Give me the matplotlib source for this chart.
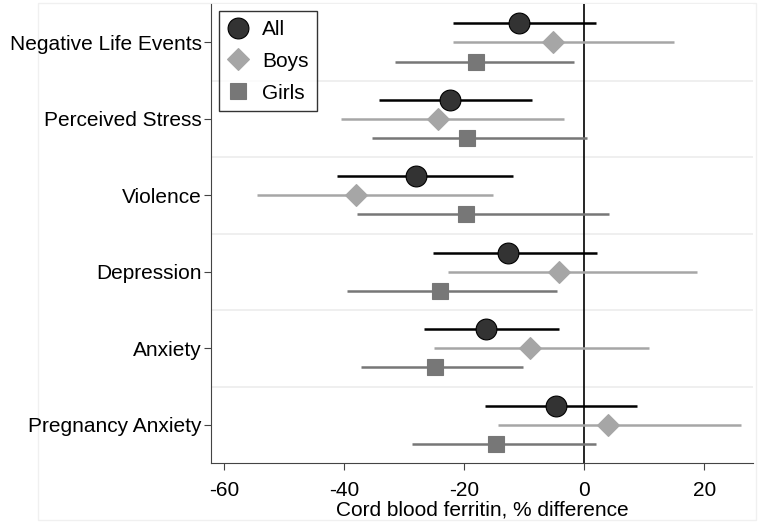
import matplotlib
matplotlib.use("Agg")
import matplotlib.pyplot as plt
from matplotlib.patches import Rectangle
import numpy as np

plt.rcParams['font.family'] = ['Liberation Sans', 'DejaVu Sans']

categories = ["Negative Life Events", "Perceived Stress", "Violence",
              "Depression", "Anxiety", "Pregnancy Anxiety"]

# point estimate, lower CI, upper CI (% difference)
all_est = [-10.8, -22.4, -28.0, -12.7, -16.3, -4.8]
all_lo = [-21.8, -34.2, -41.1, -25.2, -26.7, -16.6]
all_hi = [1.9, -8.7, -11.9, 2.1, -4.3, 8.8]

boys_est = [-5.2, -24.3, -38.0, -4.3, -9.0, 4.0]
boys_lo = [-21.8, -40.5, -54.5, -22.7, -25.0, -14.4]
boys_hi = [15.0, -3.4, -15.2, 18.7, 10.7, 26.0]

girls_est = [-18.0, -19.6, -19.7, -24.0, -24.9, -14.7]
girls_lo = [-31.5, -35.4, -37.9, -39.5, -37.1, -28.7]
girls_hi = [-1.8, 0.5, 4.1, -4.5, -10.2, 2.0]

series = [
    ("All", all_est, all_lo, all_hi, -0.25, "o", "#333333", "#000000", 15),
    ("Boys", boys_est, boys_lo, boys_hi, 0.0, "D", "#a6a6a6", "#a6a6a6", 11),
    ("Girls", girls_est, girls_lo, girls_hi, 0.25, "s", "#777777", "#777777", 11),
]

fs = 15

fig = plt.figure(figsize=(7.6, 5.22), dpi=100)
ax = fig.add_axes([0.278, 0.113, 0.713, 0.879])

y = np.arange(len(categories))
for b in np.arange(0.5, len(categories) - 0.5, 1.0):
    ax.axhline(b, color="#ececec", lw=1.2, zorder=0)
ax.axvline(0, color="black", lw=1.2, zorder=1)

for name, est, lo, hi, off, mk, fc, lc, ms in series:
    yy = y + off
    ax.hlines(yy, lo, hi, color=lc, lw=1.8, zorder=2)
    ax.plot(est, yy, ls="none", marker=mk, markersize=ms, markerfacecolor=fc,
            markeredgecolor="black" if name == "All" else fc, markeredgewidth=0.8,
            zorder=3, label=name)

ax.set_yticks(y)
ax.set_yticklabels(categories, fontsize=fs)
ax.set_ylim(len(categories) - 0.5, -0.5)
ax.set_xlim(-62.1, 28.1)
ax.set_xticks([-60, -40, -20, 0, 20])
ax.set_xticklabels(["-60", "-40", "-20", "0", "20"], fontsize=fs)
ax.set_xlabel("Cord blood ferritin, % difference", fontsize=fs, labelpad=0)

for s in ["top", "right"]:
    ax.spines[s].set_visible(False)
for s in ["left", "bottom"]:
    ax.spines[s].set_color("#444444")
ax.tick_params(axis="both", direction="out", length=5, color="#444444")
ax.tick_params(axis="y", pad=2)
ax.tick_params(axis="x", pad=8)

leg = ax.legend(loc="upper left", fontsize=fs, frameon=True, fancybox=False,
                edgecolor="black", borderpad=0.4, labelspacing=0.62,
                handletextpad=0.6, borderaxespad=0.35, handlelength=1.1)
leg.get_frame().set_linewidth(1.0)

fig.patches.append(Rectangle((0.05, 0.004), 0.945, 0.99, transform=fig.transFigure,
                             fill=False, edgecolor="#f0f0f0", lw=1, zorder=-1))

fig.savefig("out.png", dpi=100)
